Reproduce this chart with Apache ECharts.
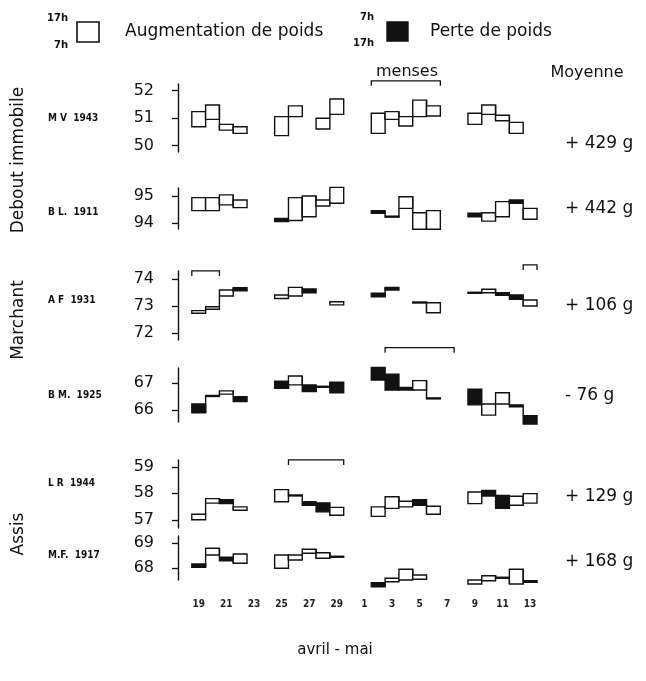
<!DOCTYPE html>
<html><head><meta charset="utf-8">
<script src="https://cdn.jsdelivr.net/npm/echarts@6/dist/echarts.min.js"></script>
<style>html,body{margin:0;padding:0;background:#fff}#c{width:646px;height:681px}</style>
</head><body><div id="c"></div>
<script>
// ---- categories (days, 18 avril .. 13 mai) ----
const dayCats = ['18','19','20','21','22','23','24','25','26','27','28','29','30',
  '1','2','3','4','5','6','7','8','9','10','11','12','13'];
const dayTickLabels = ['19','21','23','25','27','29','1','3','5','7','9','11','13'];

// ---- persons ----
const personNames = ['M V  1943','B L.  1911','A F  1931','B M.  1925','L R  1944','M.F.  1917'];
const averages = ['+ 429 g','+ 442 g','+ 106 g','- 76 g','+ 129 g','+ 168 g'];
const yTicks = [[50,51,52],[94,95],[72,73,74],[66,67],[57,58,59],[68,69]];

// M V 1943
const mvDays = ['19','20','21','22','25','26','28','29','2','3','4','5','6','9','10','11','12'];
const mv7h  = [50.68,50.95,50.56,50.44,50.36,51.05,50.60,51.13,50.44,50.95,50.71,51.05,51.07,50.77,51.13,50.90,50.44];
const mv17h = [51.23,51.47,50.77,50.68,51.05,51.44,50.99,51.69,51.17,51.23,51.05,51.65,51.44,51.17,51.47,51.10,50.84];

// B L. 1911
const blDays = ['19','20','21','22','25','26','27','28','29','2','3','4','5','6','9','10','11','12','13'];
const bl7h  = [94.46,94.46,94.67,94.57,94.17,94.09,94.23,94.63,94.73,94.46,94.25,94.54,93.77,93.77,94.36,94.07,94.23,94.85,94.14];
const bl17h = [94.94,94.94,95.04,94.85,94.05,94.94,95.00,94.85,95.32,94.36,94.22,94.97,94.38,94.46,94.23,94.38,94.79,94.73,94.54];

// A F 1931
const afDays = ['19','20','21','22','25','26','27','29','2','3','5','6','9','10','11','12','13'];
const af7h  = [72.73,72.88,73.37,73.68,73.28,73.37,73.63,73.04,73.47,73.69,73.12,72.75,73.49,73.49,73.49,73.41,73.00];
const af17h = [72.83,72.97,73.59,73.56,73.41,73.69,73.49,73.16,73.34,73.59,73.14,73.12,73.49,73.62,73.40,73.25,73.22];

// B M. 1925
const bmDays = ['19','20','21','22','25','26','27','28','29','2','3','4','5','6','9','10','11','12','13'];
const bm7h  = [66.22,66.52,66.59,66.49,67.07,66.93,66.93,66.86,67.03,67.58,67.33,66.84,66.74,66.43,66.77,65.81,66.22,66.19,65.79];
const bm17h = [65.90,66.52,66.71,66.31,66.80,67.26,66.68,66.86,66.64,67.11,66.74,66.74,67.09,66.43,66.19,66.22,66.64,66.12,65.48];

// L R 1944
const lrDays = ['19','20','21','22','25','26','27','28','29','2','3','4','5','6','9','10','11','12','13'];
const lr7h  = [57.00,57.63,57.76,57.36,57.68,57.92,57.68,57.64,57.17,57.13,57.43,57.49,57.76,57.21,57.61,58.11,57.92,57.55,57.63];
const lr17h = [57.21,57.80,57.61,57.49,58.14,57.92,57.55,57.30,57.47,57.49,57.87,57.70,57.55,57.51,58.05,57.90,57.43,57.89,57.99];

// M.F. 1917
const mfDays = ['19','20','21','22','25','26','27','28','29','2','3','4','5','9','10','11','12','13'];
const mf7h  = [68.16,68.52,68.43,68.19,67.99,68.32,68.59,68.39,68.45,67.41,67.45,67.52,67.55,67.36,67.49,67.61,67.36,67.49];
const mf17h = [68.03,68.79,68.29,68.56,68.52,68.52,68.75,68.61,68.45,67.25,67.59,67.95,67.72,67.52,67.69,67.61,67.95,67.43];

// brackets: row, first day, last day, level (kg)
const bracketRows  = [0, 2, 2, 3, 4];
const bracketStart = ['2','19','13','3','26'];
const bracketEnd   = ['6','20','13','7','29'];
const bracketLevel = [52.35, 74.30, 74.52, 68.31, 59.26];

const allDays = [mvDays, blDays, afDays, bmDays, lrDays, mfDays];
const all7h = [mv7h, bl7h, af7h, bm7h, lr7h, mf7h];
const all17h = [mv17h, bl17h, af17h, bm17h, lr17h, mf17h];

// ---- layout (pixels) ----
const gridTops = [84, 188, 271, 368, 460, 536];
const gridHeights = [68, 41, 69, 54, 68, 44];
const yMins = [49.764, 93.778, 71.741, 65.556, 56.691, 67.52];
const yMaxs = [52.236, 95.296, 74.296, 67.556, 59.257, 69.28];
const labelYs = [118, 212, 300, 395, 483, 555];
const avgYs = [144, 209, 306, 396, 497, 562];

const INK = '#111';
const FONT = 'DejaVu Sans, Liberation Sans, sans-serif';

function boxRender(params, api) {
  const idx = api.value(0), w7 = api.value(1), w17 = api.value(2), prev = api.value(3);
  const bw = api.size([1, 0])[0];
  const a = api.coord([idx, w7]), b = api.coord([idx, w17]), p = api.coord([idx, prev]);
  const x0 = a[0] - bw / 2;
  let yTop = Math.min(a[1], b[1]), yBot = Math.max(a[1], b[1]);
  const loss = w17 < w7;
  if (yBot - yTop < 1) { const m = (yTop + yBot) / 2; yTop = m - 0.5; yBot = m + 0.5; }
  return {
    type: 'group',
    children: [
      { type: 'line', shape: { x1: x0, y1: p[1], x2: x0, y2: a[1] }, style: { stroke: INK, lineWidth: 1.4 } },
      { type: 'rect', shape: { x: x0, y: yTop, width: bw, height: yBot - yTop },
        style: { fill: loss ? INK : '#fff', stroke: INK, lineWidth: 1.4 } }
    ]
  };
}

function bracketRender(params, api) {
  const s = api.value(0), e = api.value(1), lv = api.value(2);
  const bw = api.size([1, 0])[0];
  const ps = api.coord([s, lv]), pe = api.coord([e, lv]);
  const x1 = ps[0] - bw / 2, x2 = pe[0] + bw / 2, y = ps[1];
  return { type: 'polyline', shape: { points: [[x1, y + 5], [x1, y], [x2, y], [x2, y + 5]] },
    style: { stroke: INK, lineWidth: 1.3, fill: null } };
}

const grids = [], xAxes = [], yAxes = [], series = [];
for (let r = 0; r < 6; r++) {
  grids.push({ left: 178, width: 359, top: gridTops[r], height: gridHeights[r] });
  const last = r === 5;
  xAxes.push({
    type: 'category', gridIndex: r, data: dayCats, boundaryGap: true,
    show: last,
    axisLine: { show: false }, axisTick: { show: false },
    axisLabel: {
      show: last, interval: 0, margin: 19,
      fontFamily: 'DejaVu Sans Condensed, DejaVu Sans, sans-serif', fontSize: 10, fontWeight: 'bold', color: '#222',
      formatter: v => dayTickLabels.indexOf(v) >= 0 ? v : ''
    }
  });
  yAxes.push({
    type: 'value', gridIndex: r, min: yMins[r], max: yMaxs[r],
    splitLine: { show: false },
    axisLine: { show: true, lineStyle: { color: INK, width: 1.4 } },
    axisTick: { show: true, length: 6, customValues: yTicks[r], lineStyle: { color: INK, width: 1.3 } },
    axisLabel: { customValues: yTicks[r], margin: 24, fontFamily: FONT, fontSize: 16, color: INK }
  });
  const days = allDays[r], v7 = all7h[r], v17 = all17h[r];
  const data = days.map((d, i) => {
    const idx = dayCats.indexOf(d);
    const consecutive = i > 0 && dayCats.indexOf(days[i - 1]) === idx - 1;
    return [idx, v7[i], v17[i], consecutive ? v17[i - 1] : v7[i]];
  });
  series.push({ type: 'custom', xAxisIndex: r, yAxisIndex: r, renderItem: boxRender, data: data, silent: true });
  const bdata = [];
  bracketRows.forEach((br, k) => {
    if (br === r) bdata.push([dayCats.indexOf(bracketStart[k]), dayCats.indexOf(bracketEnd[k]), bracketLevel[k]]);
  });
  if (bdata.length) series.push({ type: 'custom', xAxisIndex: r, yAxisIndex: r, renderItem: bracketRender, data: bdata, silent: true });
}

const graphic = [];
function txt(x, y, text, size, opts) {
  graphic.push(Object.assign({ type: 'text', x: x, y: y,
    style: Object.assign({ text: text, fontSize: size, fontFamily: FONT, fill: INK,
      textAlign: 'left', textVerticalAlign: 'middle' }, (opts && opts.style) || {}) },
    (opts && opts.el) || {}));
}
// legend
txt(68, 18, '17h', 10, { style: { textAlign: 'right', fontWeight: 'bold' } });
txt(68, 45, '7h', 10, { style: { textAlign: 'right', fontWeight: 'bold' } });
graphic.push({ type: 'rect', shape: { x: 77, y: 22, width: 22, height: 20 }, style: { fill: '#fff', stroke: INK, lineWidth: 1.6 } });
txt(125, 32, 'Augmentation de poids', 17);
txt(374, 17, '7h', 10, { style: { textAlign: 'right', fontWeight: 'bold' } });
txt(374, 43, '17h', 10, { style: { textAlign: 'right', fontWeight: 'bold' } });
graphic.push({ type: 'rect', shape: { x: 387, y: 22, width: 21, height: 19 }, style: { fill: INK, stroke: INK, lineWidth: 1.4 } });
txt(430, 32, 'Perte de poids', 17);
// headers
txt(407, 72, 'menses', 16, { style: { textAlign: 'center' } });
txt(587, 73, 'Moyenne', 16, { style: { textAlign: 'center' } });
// group labels (rotated)
txt(19, 160, 'Debout immobile', 17, { style: { textAlign: 'center' }, el: { rotation: Math.PI / 2 } });
txt(19, 320, 'Marchant', 17, { style: { textAlign: 'center' }, el: { rotation: Math.PI / 2 } });
txt(19, 534, 'Assis', 17, { style: { textAlign: 'center' }, el: { rotation: Math.PI / 2 } });
// person labels and averages
for (let r = 0; r < 6; r++) {
  txt(48, labelYs[r], personNames[r], 10, { style: { fontWeight: 'bold', fontFamily: 'DejaVu Sans Condensed, DejaVu Sans, sans-serif' } });
  txt(565, avgYs[r], averages[r], 17);
}
txt(335, 650, 'avril - mai', 15, { style: { textAlign: 'center' } });

const chart = echarts.init(document.getElementById('c'), null, { renderer: 'canvas' });
chart.setOption({
  animation: false,
  backgroundColor: '#fff',
  grid: grids, xAxis: xAxes, yAxis: yAxes, series: series, graphic: graphic
});
</script>
</body></html>
